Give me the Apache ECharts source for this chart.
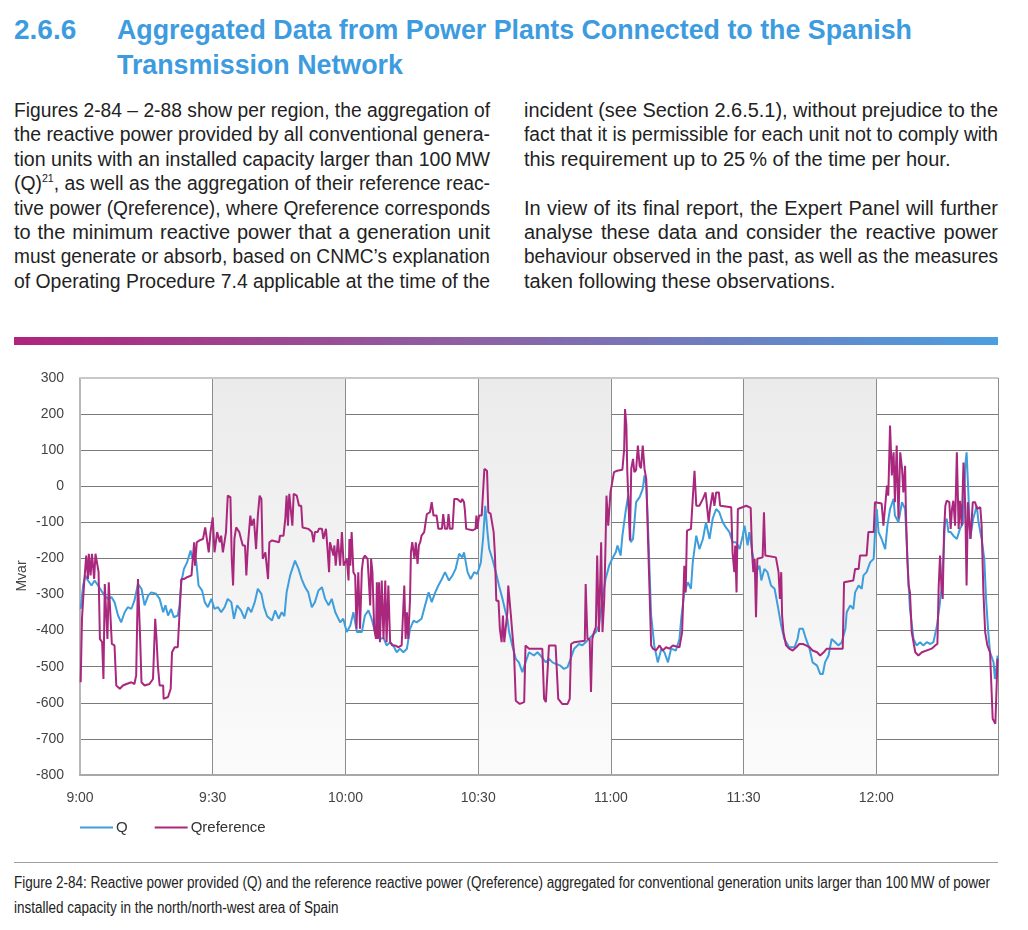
<!DOCTYPE html>
<html><head><meta charset="utf-8">
<script src="https://cdn.jsdelivr.net/npm/echarts@6/dist/echarts.min.js"></script>
<style>
html,body{margin:0;padding:0;background:#fff;}
body{width:1028px;height:930px;position:relative;overflow:hidden;font-family:"Liberation Sans Narrow","Liberation Sans",sans-serif;}
.h{position:absolute;color:#3d9be0;font-weight:bold;font-size:28px;line-height:35px;white-space:nowrap;transform-origin:0 50%;}
.col{position:absolute;top:98px;font-size:20px;line-height:24.4px;color:#222;}
.col div{height:24.4px;white-space:nowrap;}
.col div.j{text-align:justify;text-align-last:justify;}
sup{font-size:11px;line-height:0;vertical-align:8px;}
#bar{position:absolute;left:14px;top:337px;width:984px;height:8px;background:linear-gradient(90deg,#b0247c 0%,#8e5fa2 45%,#4b9fe0 100%);}
#chart{position:absolute;left:0;top:350px;width:1028px;height:500px;}
#rule{position:absolute;left:14px;top:862px;width:984px;height:1px;background:#a0a0a0;}
.cap{position:absolute;left:14px;font-size:16px;line-height:24px;color:#222;white-space:nowrap;transform-origin:0 50%;}
</style></head>
<body>
<div class="h" style="left:14px;top:12px;">2.6.6</div>
<div class="h fit" data-w="795" style="left:117px;top:12px;">Aggregated Data from Power Plants Connected to the Spanish</div>
<div class="h fit2" style="left:117px;top:47px;">Transmission Network</div>
<div class="col" style="left:14px;width:476px;">
<div class="j">Figures 2-84 – 2-88 show per region, the aggregation of</div>
<div class="j">the reactive power provided by all conventional genera-</div>
<div class="j">tion units with an installed capacity larger than 100&#8239;MW</div>
<div class="j">(Q)<sup>21</sup>, as well as the aggregation of their reference reac-</div>
<div class="j">tive power (Qreference), where Qreference corresponds</div>
<div class="j">to the minimum reactive power that a generation unit</div>
<div class="j">must generate or absorb, based on CNMC’s explanation</div>
<div class="j">of Operating Procedure 7.4 applicable at the time of the</div>
</div>
<div class="col" style="left:524px;width:474px;">
<div class="j">incident (see Section 2.6.5.1), without prejudice to the</div>
<div class="j">fact that it is permissible for each unit not to comply with</div>
<div>this requirement up to 25&#8239;% of the time per hour.</div>
<div></div>
<div class="j">In view of its final report, the Expert Panel will further</div>
<div class="j">analyse these data and consider the reactive power</div>
<div class="j">behaviour observed in the past, as well as the measures</div>
<div>taken following these observations.</div>
</div>
<div id="bar"></div>
<div id="chart"></div>
<div id="rule"></div>
<div class="cap fit" data-w="976" style="top:871px;">Figure 2-84: Reactive power provided (Q) and the reference reactive power (Qreference) aggregated for conventional generation units larger than 100&#8239;MW of power</div>
<div class="cap fit3" style="top:896px;">installed capacity in the north/north-west area of Spain</div>
<script>
// fit text widths (layout only)
(function(){
  let hs=1, cs=1;
  document.querySelectorAll('.fit').forEach(el=>{
    const w = el.getBoundingClientRect().width;
    const s = (+el.dataset.w)/w;
    el.style.transform = 'scaleX('+s+')';
    if (el.classList.contains('h')) hs=s; else cs=s;
  });
  document.querySelectorAll('.fit2').forEach(el=>{el.style.transform='scaleX('+hs+')';});
  document.querySelectorAll('.fit3').forEach(el=>{el.style.transform='scaleX('+cs+')';});
  document.querySelectorAll('.col').forEach(col=>{
    const cw = parseFloat(col.style.width);
    col.querySelectorAll('div').forEach(d=>{
      if(!d.innerHTML) return;
      const sp=document.createElement('span'); sp.innerHTML=d.innerHTML; sp.style.whiteSpace='nowrap';
      d.innerHTML=''; d.appendChild(sp);
      const w=sp.getBoundingClientRect().width;
      if(w>cw){ sp.style.display='inline-block'; sp.style.transformOrigin='0 50%'; sp.style.transform='scaleX('+(cw/w)+')'; d.style.textAlign='left'; d.style.textAlignLast='left'; }
      else { const h=sp.innerHTML; d.innerHTML=h; }
    });
  });
})();

// time in minutes after 9:00
const xTickLabels = ['9:00','9:30','10:00','10:30','11:00','11:30','12:00'];
const yTicks = [-800,-700,-600,-500,-400,-300,-200,-100,0,100,200,300];
const yAxisTitle = 'Mvar';

const qTime = [0.15,0.7,1.2,1.8,2.6,3.3,4.1,4.8,5.6,6.3,7.1,7.8,8.6,9.3,10.1,10.8,11.6,12.3,13.1,13.9,14.6,15.4,16.1,17.2,18,18.8,19.3,19.9,20.6,21.2,22.1,22.5,22.9,23.5,24.2,25,25.4,25.9,26.3,26.8,27.6,28.2,28.9,29.7,30.4,31.2,31.9,32.7,33.4,34.2,34.8,35.5,36.4,37.2,38,38.7,39.5,40.2,41,41.6,
42.3,43.4,44.1,44.9,45.6,46.2,46.7,47.5,48.6,49.4,50.1,50.9,51.6,52.4,53.1,53.9,54.7,55.4,56.2,56.9,57.7,58.8,59.5,60.3,61.1,61.8,62.6,63.7,64.4,65.2,65.9,66.7,67.8,68.6,69.3,70.1,70.8,71.6,72.3,73.1,73.9,74.6,75.4,76.1,77.2,78,78.8,79.5,80.3,81,81.8,82.5,
83.4,84.2,84.9,85.7,86.4,86.8,87.6,88.3,89.1,89.8,90.6,91.1,91.6,92.1,92.5,93.2,94,94.7,95.5,96.2,96.6,97,97.7,98.5,99.2,100,100.7,101.5,102.6,103.4,104.1,105.3,106,106.8,107.5,108.6,109.4,110.2,110.9,111.7,112.8,113.5,114.3,115,115.8,116.6,117.3,118.1,118.8,119.6,120.3,121.1,121.5,122.2,122.6,123.3,123.9,124.5,
125,125.7,126.5,127.2,127.6,128,128.3,128.7,129.1,129.8,130.6,131.4,132.1,132.9,133.6,134.7,135.5,135.9,136.6,137.4,138.1,138.5,139.3,140,140.8,141.5,142.3,143,143.8,144.5,145.3,146,146.8,147.5,148.3,149.1,149.8,150.2,150.9,151.3,152.1,152.8,153.6,154,154.7,155.4,156.2,157,157.7,158.5,159.2,160.3,161.5,162.2,162.6,163.4,164.1,164.9,165.6,
166.6,167.3,167.9,168.4,169.2,169.9,170.7,171.4,172.2,173,173.3,174.1,174.8,175.2,176,176.7,177.1,177.8,178.6,179.4,179.7,180.1,180.5,181.2,182,182.5,183.1,183.9,184.2,185,185.8,186.5,186.9,187.3,187.6,188.4,189.1,189.9,190.6,191.4,192.2,192.9,193.7,194.3,194.8,195.2,195.5,195.9,196.3,196.8,197.4,198.2,198.9,199.7,200.1,200.4,200.8,201.2,201.9,202.7,203.1,203.8,204.4,204.8,205.3,205.7,206.5,206.8,207.2,207.4];
const qValue = [-340,-275,-247,-261,-275,-261,-275,-289,-303,-312,-307,-321,-358,-377,-349,-335,-340,-317,-271,-284,-330,-303,-294,-298,-312,-349,-330,-358,-340,-363,-358,-330,-266,-229,-211,-178,-201,-183,-211,-275,-289,-321,-335,-312,-340,-335,-349,-335,-312,-321,-367,-330,-344,-367,-335,-349,-321,-284,-298,-335,
-360,-372,-344,-367,-349,-360,-294,-247,-206,-229,-257,-280,-294,-335,-321,-289,-280,-312,-330,-312,-349,-377,-367,-404,-386,-349,-404,-404,-358,-344,-367,-404,-423,-420,-441,-432,-441,-460,-450,-460,-450,-395,-372,-377,-367,-330,-294,-321,-294,-275,-257,-238,
-261,-247,-229,-187,-197,-183,-238,-257,-238,-243,-211,-146,-54,-127,-174,-201,-238,-275,-312,-349,-367,-404,-441,-478,-488,-515,-488,-460,-469,-460,-469,-488,-478,-488,-492,-497,-506,-501,-478,-450,-437,-441,-432,-423,-413,-404,-386,-312,-257,-220,-201,-183,-164,-192,-137,-72,-26,-155,
-146,-44,-30,-7,30,2,-81,-220,-358,-441,-488,-450,-460,-488,-450,-455,-423,-367,-294,-266,-284,-211,-137,-174,-146,-100,-146,-90,-63,-72,-100,-114,-127,-155,-155,-174,-137,-109,-164,-127,-192,-238,-220,-261,-229,-238,-275,-284,-330,-386,-423,-446,-446,-423,-395,-395,-423,-450,-488,
-497,-520,-520,-488,-469,-423,-432,-441,-432,-395,-349,-330,-340,-294,-275,-284,-247,-238,-211,-201,-127,-63,-127,-146,-174,-109,-63,-35,-81,-100,-44,-63,-164,-275,-340,-423,-441,-432,-441,-432,-437,-432,-386,-330,-275,-183,-100,-90,-127,-127,-137,-146,-118,-100,57,94,-17,-146,-90,-54,-100,-146,-201,-312,-404,-460,-488,-534,-497,-469];

const refTime = [0.15,0.45,0.9,1.4,1.8,2.0,2.4,2.7,3.2,3.5,3.9,4.2,4.5,5.0,5.3,5.6,5.9,6.2,6.5,6.9,7.2,7.8,8.2,9.0,9.7,10.5,11.6,12.3,12.7,13.1,13.4,13.6,13.9,14.6,15.7,16.5,16.9,17.0,17.3,17.6,18.0,18.8,18.9,19.9,20.5,20.8,21.4,22.1,22.9,23.5,24.2,25.2,25.8,26.0,26.4,27.0,27.8,28.3,29.1,29.5,30.0,30.4,31.0,31.6,31.9,32.3,33.0,33.4,34.0,34.3,34.6,34.9,35.3,36.0,36.4,36.8,37.3,37.6,38.0,38.5,38.8,39.3,39.8,40.2,40.6,41.0,
41.3,41.9,42.5,42.8,43.4,45.0,45.2,46.0,46.4,46.7,47.0,47.3,47.7,48.0,48.3,49.0,49.5,50.0,50.3,51.6,52.4,52.8,53.1,53.7,54.0,54.7,55.0,55.6,56.0,56.3,56.5,56.9,57.3,57.5,57.8,58.3,58.8,59.2,59.6,59.9,60.3,60.7,60.9,61.1,61.4,61.8,62.2,62.5,62.9,63.3,63.7,64.0,64.4,65.0,65.6,65.8,66.1,66.5,66.9,67.1,67.3,67.6,67.8,68.2,68.6,69.0,69.3,69.7,70.1,70.6,71.2,72.0,72.7,73.3,73.6,73.9,74.2,74.6,74.8,75.1,75.6,75.9,76.3,76.6,76.9,77.2,77.8,78.4,79.1,79.5,79.9,80.6,81.0,81.8,82.1,82.5,83.0,
83.3,83.6,84.2,84.6,85.3,86.1,86.4,86.8,87.0,87.3,88.7,89.4,89.6,89.8,90.2,90.8,91.1,91.4,92.0,92.3,92.8,93.2,93.5,93.8,94.1,94.6,94.9,95.3,95.6,95.9,96.2,96.6,96.8,97.1,97.4,97.7,98.1,98.5,99.4,100.4,100.7,101.5,104.5,104.9,105.3,105.7,106.0,107.5,108.1,109.0,110.2,110.7,111.0,111.7,114.1,114.3,114.7,115.2,115.5,115.8,116.2,116.6,116.9,117.3,117.6,117.8,118.1,118.5,118.8,119.0,119.4,119.7,119.9,120.3,120.7,121.4,122.6,123.0,123.2,123.5,123.7,124.1,124.3,
124.6,125.0,125.3,125.7,126.1,126.5,126.8,127.2,127.6,128.0,128.3,128.7,129.1,129.5,130.2,131.0,131.7,132.5,133.2,134.0,135.5,136.1,136.6,136.9,137.2,138.1,138.5,138.9,139.3,140.0,140.8,141.4,141.8,142.1,142.4,143.0,143.4,143.8,144.4,144.7,147.2,147.5,147.9,148.1,148.4,148.7,149.1,150.6,151.6,151.9,152.2,152.5,152.8,153.1,154.3,154.6,154.9,157.3,157.9,158.2,158.5,158.7,159.0,159.6,160.3,161.1,161.9,162.6,163.4,164.1,164.9,165.6,
166.6,167.3,168.1,168.8,171.8,172.4,172.7,174.8,175.2,176.0,176.3,177.8,178.2,179.4,179.7,181.2,181.6,182.0,182.4,182.7,183.1,183.5,183.9,184.2,184.6,185.0,185.4,185.8,186.1,186.5,186.7,187.0,187.3,187.6,188.0,188.8,189.5,190.3,192.5,193.3,193.8,194.1,194.4,194.7,195.0,195.3,195.6,195.9,196.5,196.8,197.1,197.4,197.8,198.2,198.6,198.9,199.3,199.7,200.1,200.4,200.7,201.0,201.3,201.8,202.3,202.8,203.5,203.8,204.2,204.6,205.1,205.7,206.1,206.3,206.9,207.2,207.4];
const refValue = [-543,-367,-275,-192,-257,-187,-247,-187,-257,-187,-192,-238,-423,-432,-534,-271,-271,-423,-266,-271,-437,-441,-552,-561,-552,-548,-543,-548,-524,-257,-262,-423,-543,-552,-548,-534,-534,-367,-423,-497,-552,-552,-589,-584,-561,-460,-446,-446,-257,-257,-252,-247,-155,-220,-155,-150,-146,-114,-183,-127,-86,-183,-127,-155,-137,-183,-127,-26,-30,-201,-275,-146,-114,-127,-146,-164,-164,-247,-155,-81,-109,-90,-174,-81,-26,-35,
-201,-183,-257,-155,-150,-155,-137,-137,-90,-26,-109,-21,-26,-109,-21,-26,-54,-54,-114,-118,-127,-155,-127,-127,-118,-118,-146,-118,-183,-238,-155,-155,-192,-164,-220,-146,-220,-127,-220,-224,-201,-261,-146,-220,-127,-238,-247,-395,-238,-395,-233,-201,-192,-201,-330,-201,-238,-395,-423,-266,-423,-266,-432,-261,-423,-261,-432,-275,-432,-441,-441,-446,-441,-275,-423,-349,-423,-312,-183,-155,-201,-155,-215,-164,-155,-137,-127,-77,-72,-44,-81,-81,-118,-118,-77,-118,-118,
-77,-118,-118,-35,-35,-44,-35,-44,-67,-118,-122,-118,-81,-118,-81,-81,-17,48,43,-72,-76,-81,-127,-192,-317,-317,-395,-432,-358,-432,-432,-349,-275,-275,-358,-404,-460,-594,-603,-598,-441,-450,-450,-589,-598,-598,-441,-441,-589,-603,-603,-589,-437,-432,-428,-271,-423,-423,-570,-423,-404,-390,-192,-404,-404,-155,-404,-312,-155,-26,-109,-109,-17,11,39,43,46,103,214,168,43,40,-150,
48,76,39,45,113,57,50,113,48,20,-109,-275,-441,-450,-455,-441,-455,-446,-450,-441,-446,-404,-220,-294,-123,-118,-35,43,-54,-54,-35,-17,-17,-100,-63,-17,-54,-17,-17,-54,-58,-183,-238,-164,-294,-63,-58,-54,-60,-183,-238,-201,-363,-201,-197,-72,-192,-197,-238,-312,-238,-358,-404,-441,-450,-455,-446,-437,-437,-441,-446,-455,
-460,-469,-460,-450,-450,-450,-266,-261,-229,-229,-192,-192,-127,-127,-44,-48,-109,-54,2,-26,168,30,94,-44,113,-90,94,50,-17,57,-81,-201,-275,-294,-404,-460,-469,-460,-450,-441,-437,-275,-192,-275,-312,-127,-54,-40,-44,-118,-63,-40,-109,94,-118,-40,-109,66,-54,-275,-44,-40,-146,-44,-44,-63,-58,-109,-294,-404,-441,-460,-460,-644,-658,-663,-478];

const qData = qTime.map((t,i)=>[t,qValue[i]]);
const refData = refTime.map((t,i)=>[t,refValue[i]]);

const chart = echarts.init(document.getElementById('chart'));
const FONT = '"Liberation Sans Narrow","Liberation Sans",sans-serif';
const band = new echarts.graphic.LinearGradient(0,0,0,1,[{offset:0,color:'#ebebeb'},{offset:1,color:'#fbfbfb'}]);
chart.setOption({
  animation:false,
  grid:{left:80,right:30,top:28,bottom:75},
  graphic:[{type:'text',x:22,y:226,rotation:Math.PI/2,
    style:{text:yAxisTitle,fill:'#444',font:'14px '+FONT,align:'center',verticalAlign:'middle'}}],
  xAxis:{type:'value',min:0,max:207.5,interval:30,
    axisLine:{show:true,onZero:false,lineStyle:{color:'#a8a8a8',width:2}},
    axisTick:{show:false},
    axisLabel:{margin:16,color:'#444',fontSize:14,fontFamily:FONT,showMaxLabel:false,
      formatter:v=>xTickLabels[Math.round(v/30)]||''},
    splitLine:{show:true,lineStyle:{color:'#8c8c8c',width:1}},
    splitArea:{show:true,areaStyle:{color:['rgba(255,255,255,0)',band]}}
  },
  yAxis:{type:'value',min:yTicks[0],max:yTicks[yTicks.length-1],interval:100,
    axisLine:{show:true,lineStyle:{color:'#b8b8b8',width:2}},
    axisTick:{show:false},
    axisLabel:{margin:16,color:'#444',fontSize:14,fontFamily:FONT},
    splitLine:{show:true,lineStyle:{color:'#7a7a7a',width:1}}
  },
  legend:{left:80,top:470,icon:'rect',itemWidth:33,itemHeight:2,itemGap:27,padding:0,
    textStyle:{color:'#333',fontSize:15,fontFamily:FONT,padding:[0,0,0,-2]},
    data:['Q','Qreference']},
  series:[
    {name:'Q',type:'line',data:qData,showSymbol:false,color:'#3e9edc',
      lineStyle:{width:2,color:'#3e9edc'},z:3,
      markLine:{silent:true,symbol:'none',label:{show:false},
        lineStyle:{color:'#c8c8c8',width:2,type:'solid'},data:[{yAxis:300}]}},
    {name:'Qreference',type:'line',data:refData,showSymbol:false,color:'#a9287d',
      lineStyle:{width:2,color:'#a9287d'},z:4}
  ]
});
</script>
</body></html>
